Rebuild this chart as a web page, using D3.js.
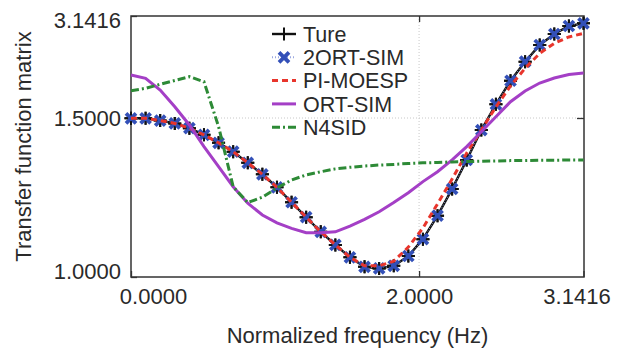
<!DOCTYPE html>
<html>
<head>
<meta charset="utf-8">
<script src="https://cdn.jsdelivr.net/npm/d3@7"></script>
<style>
  html, body { margin: 0; padding: 0; background: #fff; }
  text { font-family: "Liberation Sans", Arial, sans-serif; fill: #2a2a2a; }
</style>
</head>
<body>
<div id="chart"></div>
<script>
// frequency grid (rad), 32 samples
const freq = [0, 0.1013, 0.2027, 0.3040, 0.4054, 0.5067, 0.6080, 0.7094, 0.8107, 0.9121,
  1.0134, 1.1148, 1.2161, 1.3174, 1.4188, 1.5201, 1.6215, 1.7228, 1.8242, 1.9255,
  2.0268, 2.1282, 2.2295, 2.3309, 2.4322, 2.5335, 2.6349, 2.7362, 2.8376, 2.9389,
  3.0403, 3.1416];

const ture = [1.499, 1.499, 1.492, 1.483, 1.468, 1.447, 1.422, 1.394, 1.359, 1.323,
  1.282, 1.235, 1.188, 1.142, 1.101, 1.062, 1.032, 1.027, 1.035, 1.066,
  1.119, 1.193, 1.277, 1.368, 1.462, 1.720, 2.100, 2.406, 2.675, 2.852,
  2.981, 3.024];

const ort2 = [1.499, 1.499, 1.492, 1.483, 1.468, 1.447, 1.422, 1.394, 1.359, 1.323,
  1.282, 1.235, 1.188, 1.142, 1.101, 1.062, 1.032, 1.027, 1.035, 1.066,
  1.119, 1.193, 1.277, 1.368, 1.462, 1.720, 2.100, 2.406, 2.675, 2.852,
  2.981, 3.024];

const pimoesp = [1.499, 1.499, 1.492, 1.483, 1.468, 1.447, 1.422, 1.394, 1.359, 1.323,
  1.282, 1.235, 1.188, 1.142, 1.101, 1.062, 1.035, 1.035, 1.050, 1.094,
  1.154, 1.230, 1.308, 1.390, 1.462, 1.677, 2.015, 2.300, 2.541, 2.702,
  2.804, 2.863];

const ortsim = [2.192, 2.139, 1.951, 1.682, 1.478, 1.410, 1.347, 1.284, 1.232, 1.195,
  1.170, 1.153, 1.139, 1.139, 1.142, 1.160, 1.181, 1.205, 1.234, 1.265,
  1.300, 1.331, 1.368, 1.410, 1.457, 1.521, 1.762, 1.935, 2.063, 2.144,
  2.200, 2.224];

const n4sid = [1.939, 1.978, 2.042, 2.104, 2.165, 2.084, 1.473, 1.284, 1.234, 1.251,
  1.280, 1.305, 1.321, 1.331, 1.340, 1.345, 1.349, 1.352, 1.354, 1.357,
  1.359, 1.360, 1.362, 1.363, 1.364, 1.365, 1.366, 1.366, 1.367, 1.367,
  1.368, 1.368];

const xTicks = [0, 2, 3.1416];
const xTickLabels = ['0.0000', '2.0000', '3.1416'];
const yTicks = [1, 1.5, 3.1416];
const yTickLabels = ['1.0000', '1.5000', '3.1416'];

const seriesNames = ['Ture', '2ORT-SIM', 'PI-MOESP', 'ORT-SIM', 'N4SID'];

const W = 628, H = 352;
const plot = { left: 131, right: 584, top: 16, bottom: 277 };

const svg = d3.select('#chart').append('svg')
  .attr('width', W)
  .attr('height', H);

const x = d3.scaleLinear().domain([0, 3.1416]).range([plot.left, plot.right - 0.5]);
// axis ticks are not evenly spaced in the original, so piecewise
const y = d3.scaleLinear().domain(yTicks).range([plot.bottom, 118, plot.top]);

// grid
const grid = svg.append('g').attr('class', 'grid');
grid.append('line')
  .attr('x1', x(2)).attr('x2', x(2))
  .attr('y1', plot.top).attr('y2', plot.bottom)
  .attr('stroke', '#c8c8c8').attr('stroke-width', 1).attr('stroke-dasharray', '1,2');
grid.append('line')
  .attr('x1', plot.left).attr('x2', plot.right)
  .attr('y1', y(1.5)).attr('y2', y(1.5))
  .attr('stroke', '#c8c8c8').attr('stroke-width', 1).attr('stroke-dasharray', '1,2');

// axes (inward ticks on all four sides)
const xAxis = d3.axisBottom(x).tickValues(xTicks).tickSize(-6).tickSizeOuter(0)
  .tickFormat((d, i) => xTickLabels[i]);
const gx = svg.append('g')
  .attr('transform', `translate(0,${plot.bottom})`)
  .call(xAxis);
gx.select('.domain').remove();
gx.selectAll('.tick line').attr('stroke', '#333').attr('stroke-width', 1.3);
gx.selectAll('.tick text')
  .attr('y', 11).attr('dy', '0.71em')
  .style('font-size', '22px')
  .attr('dx', (d, i) => i === 0 ? 22 : (i === 2 ? -7 : 0));

const xTop = d3.axisTop(x).tickValues([2]).tickSize(-6).tickSizeOuter(0).tickFormat('');
const gxt = svg.append('g').attr('transform', `translate(0,${plot.top})`).call(xTop);
gxt.select('.domain').remove();
gxt.selectAll('.tick line').attr('stroke', '#333').attr('stroke-width', 1.3);

const yAxis = d3.axisLeft(y).tickValues(yTicks).tickSize(-6).tickSizeOuter(0)
  .tickFormat((d, i) => yTickLabels[i]);
const gy = svg.append('g')
  .attr('transform', `translate(${plot.left},0)`)
  .call(yAxis);
gy.select('.domain').remove();
gy.selectAll('.tick line').attr('stroke', '#333').attr('stroke-width', 1.3);
gy.selectAll('.tick text')
  .attr('x', -10).attr('dy', '0.36em')
  .style('font-size', '22px')
  .attr('transform', (d, i) => `translate(0,${i === 0 ? -6 : (i === 2 ? 3.5 : 0)})`);

const yRight = d3.axisRight(y).tickValues([1.5]).tickSize(-7).tickSizeOuter(0).tickFormat('');
const gyr = svg.append('g').attr('transform', `translate(${plot.right},0)`).call(yRight);
gyr.select('.domain').remove();
gyr.selectAll('.tick line').attr('stroke', '#333').attr('stroke-width', 1.3);

// frame
svg.append('rect')
  .attr('x', plot.left).attr('y', plot.top)
  .attr('width', plot.right - plot.left).attr('height', plot.bottom - plot.top)
  .attr('fill', 'none').attr('stroke', '#333').attr('stroke-width', 1.5);

// axis titles
svg.append('text')
  .attr('x', (plot.left + plot.right) / 2).attr('y', 343)
  .attr('text-anchor', 'middle')
  .style('font-size', '22px')
  .text('Normalized frequency (Hz)');

svg.append('text')
  .attr('transform', `translate(31,${(plot.top + plot.bottom) / 2}) rotate(-90)`)
  .attr('text-anchor', 'middle')
  .style('font-size', '22px')
  .text('Transfer function matrix');

// series
const styles = [
  { color: '#111', width: 2.4, dash: null, marker: 'plus' },
  { color: '#3350b8', width: 1, dash: '1,2', marker: 'cross', lineColor: '#9aa8e0' },
  { color: '#e8352c', width: 3, dash: '6,4', marker: null },
  { color: '#a43fc6', width: 3, dash: null, marker: null },
  { color: '#2d8a36', width: 3, dash: '8,3,2,3', marker: null }
];
const seriesData = [ture, ort2, pimoesp, ortsim, n4sid];

const line = d3.line().x((d, i) => x(freq[i])).y(d => y(d));

const plusPath = 'M-6.5,0H6.5M0,-6.5V6.5';
const crossPath = 'M-5,-5L5,5M-5,5L5,-5';

const series = svg.append('g').attr('class', 'series');

function drawMarker(g, kind, color) {
  if (kind === 'plus') {
    g.append('path').attr('d', plusPath).attr('stroke', color).attr('stroke-width', 2).attr('fill', 'none');
  } else if (kind === 'cross') {
    g.append('path').attr('d', crossPath).attr('stroke', color).attr('stroke-width', 3.8).attr('fill', 'none');
  }
}

seriesData.forEach((vals, k) => {
  const s = styles[k];
  series.append('path')
    .datum(vals)
    .attr('d', line)
    .attr('fill', 'none')
    .attr('stroke', s.lineColor || s.color)
    .attr('stroke-width', s.width)
    .attr('stroke-dasharray', s.dash);
  if (s.marker) {
    series.append('g').selectAll('g')
      .data(vals)
      .join('g')
      .attr('transform', (d, i) => `translate(${x(freq[i])},${y(d)})`)
      .each(function () { drawMarker(d3.select(this), s.marker, s.color); });
  }
  // black + drawn again on top of blue crosses
  if (k === 1) {
    series.append('g').selectAll('g')
      .data(ture)
      .join('g')
      .attr('transform', (d, i) => `translate(${x(freq[i])},${y(d)})`)
      .each(function () {
        d3.select(this).append('path').attr('d', 'M-6.5,0H-3M3,0H6.5M0,-6.5V-3M0,3V6.5')
          .attr('stroke', '#111').attr('stroke-width', 2);
      });
  }
});

// legend
const legend = svg.append('g').attr('transform', 'translate(272,34)');
seriesNames.forEach((name, k) => {
  const s = styles[k];
  const row = legend.append('g').attr('transform', `translate(0,${k * 23.3})`);
  row.append('line')
    .attr('x1', 0).attr('x2', 24)
    .attr('stroke', s.lineColor || s.color)
    .attr('stroke-width', s.marker === 'cross' ? 2 : s.width)
    .attr('stroke-dasharray', s.dash);
  if (s.marker) drawMarker(row.append('g').attr('transform', 'translate(12,0)'), s.marker, s.color);
  row.append('text')
    .attr('x', 31).attr('dy', '0.36em')
    .style('font-size', '21.5px')
    .text(name);
});
</script>
</body>
</html>
